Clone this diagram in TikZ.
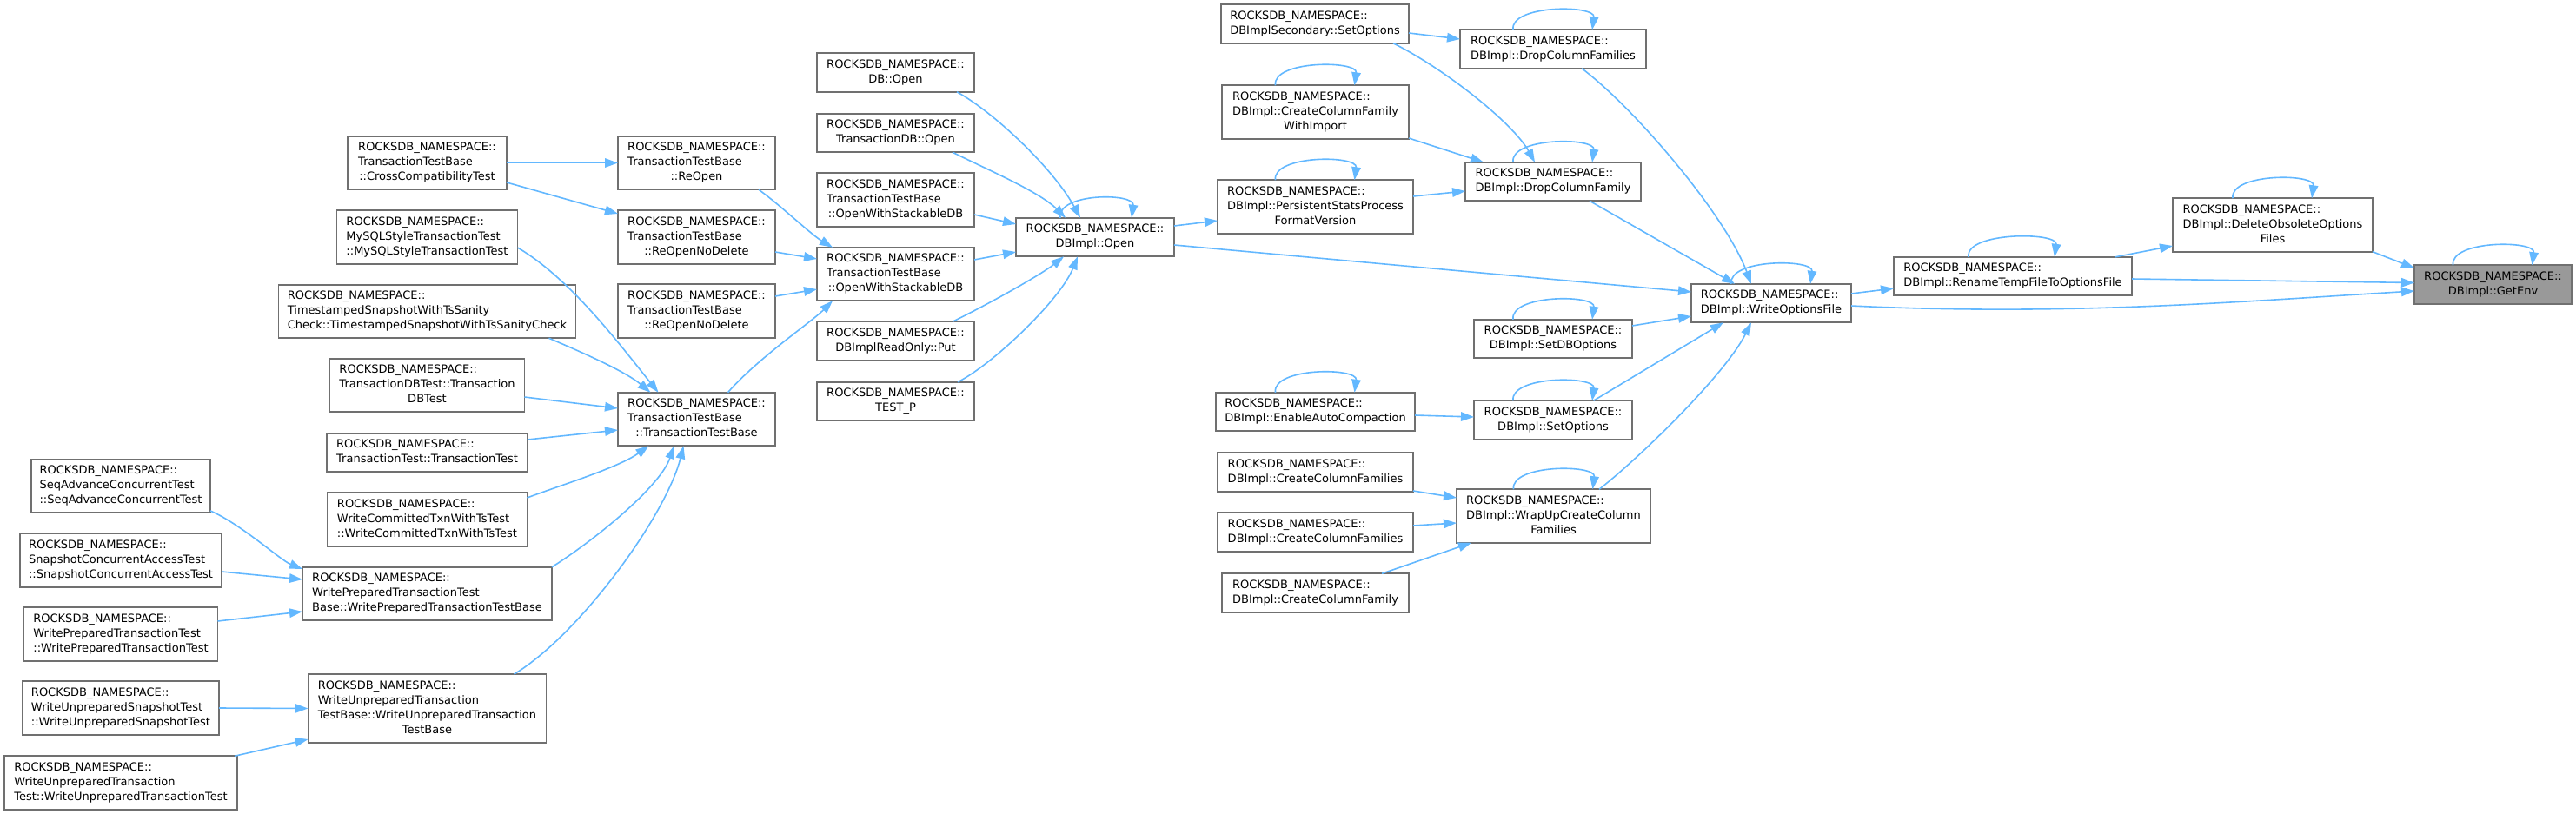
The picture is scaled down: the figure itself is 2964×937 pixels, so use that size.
\documentclass[tikz,border=0pt]{standalone}
\usepackage{fontspec}
\setmainfont{DejaVu Sans}
\usetikzlibrary{arrows.meta,calc}
\definecolor{edgeblue}{HTML}{63B8FF}
\definecolor{boxgray}{HTML}{707070}
\definecolor{focusgray}{HTML}{999999}
\newcommand{\NS}{ROCKSDB\_NAMESPACE::}
\newcommand{\Ltwo}[2]{\begin{tabular}{@{}l@{}}#1\\\multicolumn{1}{@{}c@{}}{#2}\end{tabular}}
\newcommand{\Lthree}[3]{\begin{tabular}{@{}l@{}}#1\\#2\\\multicolumn{1}{@{}c@{}}{#3}\end{tabular}}
\newcommand{\Lfour}[4]{\begin{tabular}{@{}l@{}}#1\\#2\\#3\\\multicolumn{1}{@{}c@{}}{#4}\end{tabular}}
\newcommand{\selfloop}[3]{\draw[edge] ($(#1.north)+(#2,0)$) .. controls +(-4,-29) and +(4,-29) .. ($(#1.north)+(#3,0)$);}
\begin{document}
\begin{tikzpicture}[x=1pt,y=-1pt,font=\fontsize{13pt}{17pt}\selectfont,
  box/.style={draw=boxgray, line width=1.9pt, fill=white, inner xsep=3pt, inner ysep=0pt, outer sep=0pt},
  focus/.style={box, fill=focusgray},
  h2/.style={minimum height=44.5pt},
  h3/.style={minimum height=61.5pt},
  h4/.style={minimum height=79pt},
  edge/.style={draw=edgeblue, line width=1.6pt, -{Triangle[length=15pt,width=10.5pt]}}]
\useasboundingbox[fill=white] (0,0) rectangle (2964,937);

% column 1
\node[box,h3,minimum width=206pt] (seq) at (139,559.5) {\Lthree{\NS}{SeqAdvanceConcurrentTest}{::SeqAdvanceConcurrentTest}};
\node[box,h3,minimum width=232pt] (snap) at (139,645) {\Lthree{\NS}{SnapshotConcurrentAccessTest}{::SnapshotConcurrentAccessTest}};
\node[box,h3,minimum width=223pt] (wptt) at (139,730) {\Lthree{\NS}{WritePreparedTransactionTest}{::WritePreparedTransactionTest}};
\node[box,h3,minimum width=226pt] (wust) at (139,815) {\Lthree{\NS}{WriteUnpreparedSnapshotTest}{::WriteUnpreparedSnapshotTest}};
\node[box,h3,minimum width=268pt] (wutt) at (139,901) {\Lthree{\NS}{WriteUnpreparedTransaction}{Test::WriteUnpreparedTransactionTest}};

% column 2
\node[box,h3,minimum width=183pt] (cross) at (491.5,187.5) {\Lthree{\NS}{TransactionTestBase}{::CrossCompatibilityTest}};
\node[box,h3,minimum width=208pt] (mysql) at (491.5,273) {\Lthree{\NS}{MySQLStyleTransactionTest}{::MySQLStyleTransactionTest}};
\node[box,h3,minimum width=342pt] (ts) at (491.5,358.5) {\Lthree{\NS}{TimestampedSnapshotWithTsSanity}{Check::TimestampedSnapshotWithTsSanityCheck}};
\node[box,h3,minimum width=224pt] (tdbt) at (491.5,443.5) {\Lthree{\NS}{TransactionDBTest::Transaction}{DBTest}};
\node[box,h2,minimum width=231pt] (tt) at (491.5,521) {\Ltwo{\NS}{TransactionTest::TransactionTest}};
\node[box,h3,minimum width=230pt] (wct) at (491.5,598) {\Lthree{\NS}{WriteCommittedTxnWithTsTest}{::WriteCommittedTxnWithTsTest}};
\node[box,h3,minimum width=287pt] (wptb) at (491.5,683.5) {\Lthree{\NS}{WritePreparedTransactionTest}{Base::WritePreparedTransactionTestBase}};
\node[box,h4,minimum width=274pt] (wutb) at (491.5,815.5) {\Lfour{\NS}{WriteUnpreparedTransaction}{TestBase::WriteUnpreparedTransaction}{TestBase}};

% column 3
\node[box,h3,minimum width=181pt] (reopen) at (801.5,187.5) {\Lthree{\NS}{TransactionTestBase}{::ReOpen}};
\node[box,h3,minimum width=181pt] (rond1) at (801.5,273) {\Lthree{\NS}{TransactionTestBase}{::ReOpenNoDelete}};
\node[box,h3,minimum width=181pt] (rond2) at (801.5,358) {\Lthree{\NS}{TransactionTestBase}{::ReOpenNoDelete}};
\node[box,h3,minimum width=181pt] (ttb) at (801.5,482.5) {\Lthree{\NS}{TransactionTestBase}{::TransactionTestBase}};

% column 4
\node[box,h2,minimum width=181pt] (dbopen) at (1030.5,83.5) {\Ltwo{\NS}{DB::Open}};
\node[box,h2,minimum width=181pt] (tdbopen) at (1030.5,153) {\Ltwo{\NS}{TransactionDB::Open}};
\node[box,h3,minimum width=181pt] (owsdb1) at (1030.5,230) {\Lthree{\NS}{TransactionTestBase}{::OpenWithStackableDB}};
\node[box,h3,minimum width=181pt] (owsdb2) at (1030.5,315.5) {\Lthree{\NS}{TransactionTestBase}{::OpenWithStackableDB}};
\node[box,h2,minimum width=181pt] (put) at (1030.5,392.5) {\Ltwo{\NS}{DBImplReadOnly::Put}};
\node[box,h2,minimum width=181pt] (testp) at (1030.5,462) {\Ltwo{\NS}{TEST\_P}};

% column 5
\node[box,h2,minimum width=182pt] (dbimplopen) at (1260,273) {\Ltwo{\NS}{DBImpl::Open}};

% column 6
\node[box,h2,minimum width=216pt] (secset) at (1513,27.5) {\Ltwo{\NS}{DBImplSecondary::SetOptions}};
\node[box,h3,minimum width=215pt] (ccfwi) at (1513.5,129) {\Lthree{\NS}{DBImpl::CreateColumnFamily}{WithImport}};
\node[box,h3,minimum width=225pt] (psp) at (1513.5,238) {\Lthree{\NS}{DBImpl::PersistentStatsProcess}{FormatVersion}};
\node[box,h2,minimum width=229pt] (eac) at (1513.5,474) {\Ltwo{\NS}{DBImpl::EnableAutoCompaction}};
\node[box,h2,minimum width=225pt] (ccfs1) at (1513.5,543.5) {\Ltwo{\NS}{DBImpl::CreateColumnFamilies}};
\node[box,h2,minimum width=225pt] (ccfs2) at (1513.5,612.5) {\Ltwo{\NS}{DBImpl::CreateColumnFamilies}};
\node[box,h2,minimum width=215pt] (ccf) at (1513.5,682.5) {\Ltwo{\NS}{DBImpl::CreateColumnFamily}};

% column 7
\node[box,h2,minimum width=214pt] (dcfs) at (1787,56.5) {\Ltwo{\NS}{DBImpl::DropColumnFamilies}};
\node[box,h2,minimum width=202pt] (dcf) at (1787,209) {\Ltwo{\NS}{DBImpl::DropColumnFamily}};
\node[box,h2,minimum width=182pt] (setdb) at (1787,390) {\Ltwo{\NS}{DBImpl::SetDBOptions}};
\node[box,h2,minimum width=182pt] (setopt) at (1787,483.5) {\Ltwo{\NS}{DBImpl::SetOptions}};
\node[box,h3,minimum width=223pt] (wrap) at (1787.5,594) {\Lthree{\NS}{DBImpl::WrapUpCreateColumn}{Families}};

% columns 8-11
\node[box,h2,minimum width=184pt] (wof) at (2038,349) {\Ltwo{\NS}{DBImpl::WriteOptionsFile}};
\node[box,h2,minimum width=274pt] (rename) at (2316,318) {\Ltwo{\NS}{DBImpl::RenameTempFileToOptionsFile}};
\node[box,h3,minimum width=230pt] (delete) at (2615,259) {\Lthree{\NS}{DBImpl::DeleteObsoleteOptions}{Files}};
\node[focus,h2,minimum width=181pt] (getenv) at (2868.5,327.5) {\Ltwo{\NS}{DBImpl::GetEnv}};

% edges, left part
\draw[edge] (cross.east) -- (reopen.west);
\draw[edge] ($(cross.east)+(0,22.5)$) -- ($(rond1.west)+(0,-27)$);
\draw[edge] ($(mysql.east)+(0,12)$) .. controls +(60,35) and +(-45,-56) .. ($(ttb.north)+(-44,0)$);
\draw[edge] ($(ts.south)+(140,0)$) .. controls +(35,15) and +(-30,-25) .. ($(ttb.north)+(-53,0)$);
\draw[edge] ($(tdbt.east)+(0,13.5)$) -- ($(ttb.west)+(0,-12.5)$);
\draw[edge] ($(tt.east)+(0,-15)$) -- ($(ttb.west)+(0,12.5)$);
\draw[edge] ($(wct.east)+(0,-25)$) .. controls +(40,-15) and +(-35,25) .. ($(ttb.south)+(-55,0)$);
\draw[edge] (wptb.north east) .. controls +(55,-35) and +(-15,45) .. ($(ttb.south)+(-26,0)$);
\draw[edge] ($(wutb.north)+(100,0)$) .. controls +(75,-45) and +(-20,80) .. ($(ttb.south)+(-15,0)$);
\draw[edge] ($(seq.east)+(0,28.5)$) .. controls +(35,15) and +(-25,-10) .. ($(wptb.west)+(0,-28.5)$);
\draw[edge] ($(snap.east)+(0,13)$) -- ($(wptb.west)+(0,-16.5)$);
\draw[edge] ($(wptt.east)+(0,-15)$) -- ($(wptb.west)+(0,20.5)$);
\draw[edge] (wust.east) -- (wutb.west);
\draw[edge] ($(wutt.north)+(131,0)$) -- ($(wutb.west)+(0,35.5)$);

% column 3 -> 4
\draw[edge] ($(reopen.south)+(71.5,0)$) .. controls +(25,18) and +(-25,-15) .. ($(owsdb2.north)+(-72.5,0)$);
\draw[edge] ($(rond1.east)+(0,17)$) -- ($(owsdb2.west)+(0,-17.5)$);
\draw[edge] ($(rond2.east)+(0,-17)$) -- ($(owsdb2.west)+(0,17.5)$);
\draw[edge] ($(ttb.north)+(36,0)$) .. controls +(35,-40) and +(-25,25) .. ($(owsdb2.south)+(-72.5,0)$);

% column 4 -> DBImpl::Open
\draw[edge] ($(dbopen.south)+(70.5,0)$) .. controls +(45,25) and +(-30,-55) .. ($(dbimplopen.north)+(-17,0)$);
\draw[edge] ($(tdbopen.south)+(65.5,0)$) .. controls +(40,20) and +(-30,-30) .. ($(dbimplopen.north)+(-34,0)$);
\draw[edge] ($(owsdb1.east)+(0,17)$) -- ($(dbimplopen.west)+(0,-15)$);
\draw[edge] ($(owsdb2.east)+(0,-16.5)$) -- ($(dbimplopen.west)+(0,17)$);
\draw[edge] ($(put.north)+(65.5,0)$) .. controls +(45,-22) and +(-25,20) .. ($(dbimplopen.south)+(-36,0)$);
\draw[edge] ($(testp.north)+(71.5,0)$) .. controls +(40,-20) and +(-20,50) .. ($(dbimplopen.south)+(-20,0)$);

% DBImpl::Open onwards
\draw[edge] ($(dbimplopen.east)+(0,-13)$) -- ($(psp.west)+(0,16)$);
\draw[edge] ($(dbimplopen.east)+(0,9)$) -- ($(wof.west)+(0,-13)$);
\draw[edge] ($(secset.east)+(0,10.5)$) -- ($(dcfs.west)+(0,-11.5)$);
\draw[edge] ($(secset.south)+(90,0)$) .. controls +(60,30) and +(-25,-45) .. ($(dcf.north)+(-21,0)$);
\draw[edge] ($(ccfwi.east)+(0,30)$) -- ($(dcf.north)+(-80,0)$);
\draw[edge] ($(psp.east)+(0,-12)$) -- ($(dcf.west)+(0,11)$);
\draw[edge] ($(dcfs.south)+(33,0)$) .. controls +(60,45) and +(-30,-80) .. ($(wof.north)+(-23,0)$);
\draw[edge] ($(dcf.south)+(42,0)$) -- ($(wof.north)+(-42,0)$);
\draw[edge] ($(setdb.east)+(0,-15)$) -- ($(wof.west)+(0,15)$);
\draw[edge] ($(setopt.north)+(46.5,0)$) -- ($(wof.south)+(-55,0)$);
\draw[edge] ($(eac.east)+(0,4)$) -- ($(setopt.west)+(0,-3.5)$);
\draw[edge] ($(wrap.north)+(52.5,0)$) .. controls +(45,-35) and +(-30,60) .. ($(wof.south)+(-23,0)$);
\draw[edge] ($(ccfs1.east)+(0,21.5)$) -- ($(wrap.west)+(0,-21)$);
\draw[edge] ($(ccfs2.east)+(0,-7.5)$) -- ($(wrap.west)+(0,8)$);
\draw[edge] ($(ccf.north)+(76.5,0)$) -- ($(wrap.south)+(-94.5,0)$);
\draw[edge] ($(wof.east)+(0,-11)$) -- ($(rename.west)+(0,14)$);
\draw[edge] ($(wof.east)+(0,3)$) .. controls +(250,12) and +(-200,12) .. ($(getenv.west)+(0,7.5)$);
\draw[edge] ($(rename.north)+(118,0)$) -- ($(delete.west)+(0,24)$);
\draw[edge] ($(rename.east)+(0,3)$) -- ($(getenv.west)+(0,-2)$);
\draw[edge] ($(delete.south)+(115,0)$) -- ($(getenv.west)+(0,-19)$);

% self loops
\selfloop{dbimplopen}{-40}{42}
\selfloop{dcfs}{-46}{45}
\selfloop{ccfwi}{-46}{45}
\selfloop{psp}{-46}{45}
\selfloop{dcf}{-46}{45}
\selfloop{setdb}{-46}{45}
\selfloop{eac}{-46}{45}
\selfloop{setopt}{-46}{45}
\selfloop{wrap}{-46}{45}
\selfloop{wof}{-46}{45}
\selfloop{rename}{-51}{48}
\selfloop{delete}{-46}{45}
\selfloop{getenv}{-46}{45}
\end{tikzpicture}
\end{document}
